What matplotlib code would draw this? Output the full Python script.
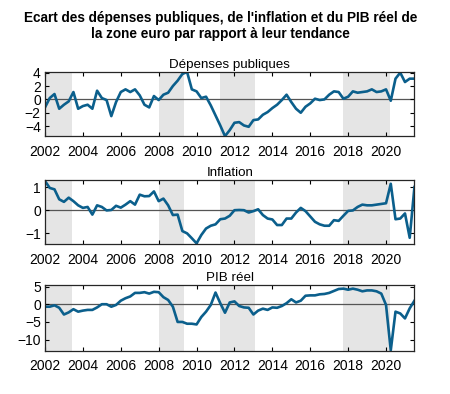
import numpy as np
import matplotlib
matplotlib.use("Agg")
import matplotlib.pyplot as plt

# quarterly dates, 2002Q1 .. 2021Q3
dates = 2002 + 0.25 * np.arange(79)

depenses = [-1.2, 0.2, 0.8, -1.4, -0.8, -0.3, 1.1, -1.4, -1.0, -0.8,
            -1.4, 1.3, 0.2, -0.1, -2.5, -0.4, 1.1, 1.5, 1.1, 1.5,
            0.6, -0.8, -1.2, 0.5, -0.1, 0.7, 1.0, 2.0, 2.8, 3.8,
            4.1, 1.5, 1.2, 0.2, 0.4, -0.9, -2.4, -3.9, -5.5, -4.6,
            -3.5, -3.4, -3.9, -4.1, -3.1, -3.0, -2.3, -1.9, -1.3, -0.8,
            -0.1, 0.7, -0.4, -1.4, -2.0, -1.1, -0.6, 0.1, -0.1, 0.0,
            0.7, 1.2, 1.1, 0.1, 0.4, 1.2, 1.0, 1.1, 1.2, 1.5,
            1.1, 1.2, 1.5, -0.2, 3.1, 4.0, 2.6, 3.1, 3.1]

inflation = [1.26, 0.96, 0.9, 0.47, 0.36, 0.54, 0.39, 0.21, 0.1, 0.14,
             -0.19, 0.21, 0.14, -0.01, 0.01, 0.19, 0.11, 0.24, 0.39, 0.24,
             0.67, 0.6, 0.61, 0.81, 0.39, 0.5, 0.21, -0.21, -0.19, -0.9,
             -1.0, -1.21, -1.43, -1.07, -0.79, -0.67, -0.61, -0.39, -0.36, -0.24,
             0.0, 0.01, 0.0, -0.1, -0.04, 0.04, -0.21, -0.36, -0.4, -0.64,
             -0.64, -0.36, -0.36, -0.1, 0.1, -0.04, -0.27, -0.5, -0.61, -0.67,
             -0.67, -0.43, -0.46, -0.24, -0.03, -0.01, 0.14, 0.24, 0.21, 0.21,
             0.24, 0.27, 0.3, 1.14, -0.39, -0.36, -0.14, -1.19, 1.0]

pib = [-0.7, -0.7, -0.3, -1.0, -2.9, -2.3, -1.4, -2.1, -1.8, -1.6,
       -1.6, -0.9, 0.0, 0.0, -0.7, -0.2, 1.0, 1.7, 2.2, 3.2,
       3.2, 3.4, 3.0, 3.5, 3.4, 2.0, 1.2, -0.7, -5.0, -5.0,
       -5.5, -5.5, -5.7, -3.6, -2.1, -0.2, 3.3, 0.3, -2.4, 0.5,
       0.8, -0.5, -0.9, -1.0, -2.9, -1.8, -1.25, -1.6, -0.9, -1.0,
       -0.5, 0.3, 1.4, 0.5, 1.0, 2.4, 2.5, 2.5, 2.8, 2.9,
       3.2, 3.75, 4.3, 4.4, 4.1, 4.4, 4.1, 3.65, 3.9, 3.9,
       3.65, 3.0, -0.2, -13.0, -2.1, -2.6, -4.0, -1.15, 1.0]

# shaded periods
periods = [(2002.0, 2003.4), (2008.0, 2009.35), (2011.25, 2013.1), (2017.75, 2020.2)]

titles = ["Dépenses publiques", "Inflation", "PIB réel"]
series = [depenses, inflation, pib]
ylims = [(-5.55, 4.1), (-1.47, 1.3), (-13.1, 5.3)]
yticks = [[-4, -2, 0, 2, 4], [-1, 0, 1], [-10, -5, 0, 5]]
positions = [[0.1, 0.6536, 0.821, 0.1637],
             [0.1, 0.380, 0.821, 0.163],
             [0.1, 0.110, 0.821, 0.1655]]

plt.rcParams['font.family'] = ['Liberation Sans', 'DejaVu Sans']

fig = plt.figure(figsize=(4.5, 3.94), dpi=100)
fig.text(0.49, 0.972, "Ecart des dépenses publiques, de l'inflation et du PIB réel de\n"
         "la zone euro par rapport à leur tendance",
         ha='center', va='top', fontsize=9.8, fontweight='bold', linespacing=1.2)

for k in range(3):
    ax = fig.add_axes(positions[k])
    for a, b in periods:
        ax.axvspan(a, b, color='#e5e5e5', lw=0, zorder=0)
    ax.axhline(0, color='#555555', lw=0.9, zorder=1)
    ax.plot(dates, series[k], color='#0b5f8c', lw=1.9, zorder=2)
    ax.set_xlim(2002, 2021.5)
    ax.set_ylim(*ylims[k])
    ax.set_yticks(yticks[k])
    ax.set_xticks(range(2002, 2022, 2))
    ax.tick_params(direction='in', top=True, right=True, labelsize=10,
                   length=3, width=0.8)
    ax.tick_params(axis='x', pad=6)
    ax.tick_params(axis='y', pad=3)
    ax.set_title(titles[k], fontsize=9.6, pad=3)
    for s in ax.spines.values():
        s.set_linewidth(0.9)
        s.set_color('#262626')

fig.savefig("out.png", dpi=100)
